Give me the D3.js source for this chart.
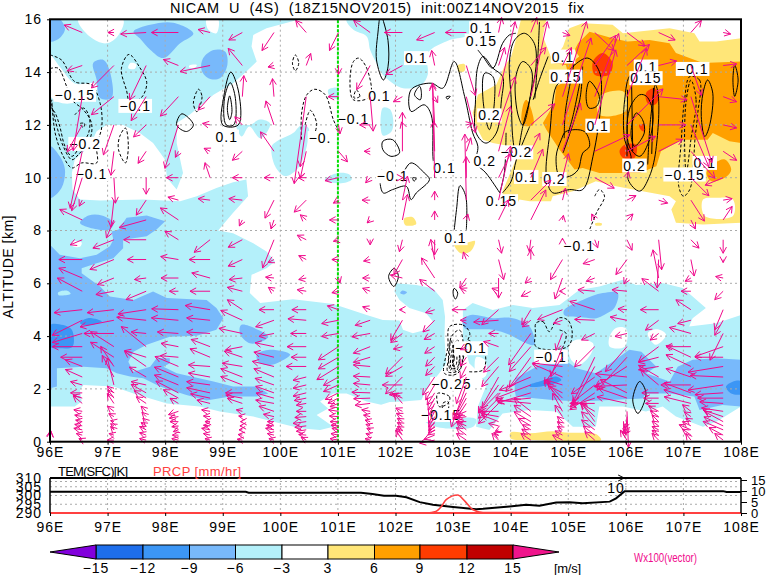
<!DOCTYPE html>
<html><head><meta charset="utf-8">
<script src="https://cdn.jsdelivr.net/npm/d3@7/dist/d3.min.js"></script>
<style>html,body{margin:0;padding:0;background:#fff}svg{display:block}text{font-family:"Liberation Sans",sans-serif}</style>
</head><body><svg id="c" width="767" height="575"></svg>
<script>
const titleText="NICAM  U  (4S)  (18Z15NOV2015)  init:00Z14NOV2015  fix";
const lonTicks=[96,97,98,99,100,101,102,103,104,105,106,107,108];
const altTicks=[0,2,4,6,8,10,12,14,16];
const tempTicks=[290,295,300,305,310];
const prcpTicks=[0,5,10,15];
const legendLevels=[-15,-12,-9,-6,-3,3,6,9,12,15];
const legendColors=["#1e6eeb","#3c96f5","#78b9fb","#b4f0fa","#ffffff","#ffe678","#ffa000","#ff3c00","#c00000"];
const legendLow="#8200dc",legendHigh="#f0148c";

const uBelowM3=[
[[96,16],[100.34,16],[99.76,15.66],[99.53,15.41],[99.5,14.97],[99.59,14.4],[99.41,14.02],[99.18,13.58],[98.84,13.14],[98.43,12.39],[98.2,12.07],[98.2,11.31],[98.31,10.18],[98.2,9.55],[98.03,9.99],[98,10.68],[97.79,11.31],[97.56,11.69],[97.27,12],[96.98,12],[96.81,11.76],[96.69,11.19],[96.43,10.69],[96.38,10.18],[96.39,9.55],[96.52,9.17],[96.87,9.14],[97.62,9.17],[98.26,9.11],[98.55,9.3],[98.89,9.61],[99.18,9.83],[99.41,9.93],[99.44,9.3],[99.18,8.67],[98.92,8],[99.18,7.9],[99.53,7.52],[99.76,7.2],[99.91,6.83],[99.76,6.57],[99.5,6.32],[99.47,5.63],[99.65,5.25],[100.22,5.4],[100.92,5.22],[101.5,4.8],[101.78,4.61],[102.07,4.59],[102.13,4.24],[102.3,4.11],[102.53,4.24],[102.65,4.55],[102.53,4.87],[102.24,5.06],[102.07,5.37],[101.98,5.69],[102.01,6],[102.36,5.94],[102.65,5.81],[102.82,5.37],[102.86,4.74],[102.85,3.98],[102.88,2.97],[102.76,2.59],[102.53,1.96],[102.45,1.58],[102.13,1.52],[101.9,1.5],[101.75,1.4],[101.5,1.52],[101.15,1.83],[100.92,1.83],[100.69,1.52],[100.83,1.26],[100.63,1.01],[100.92,.57],[100.69,.44],[100.34,.51],[99.99,.7],[99.53,.95],[98.95,1.14],[98.6,1.33],[98.03,1.45],[97.45,1.83],[97.1,2.09],[96.58,2.15],[96.52,1.96],[96.55,1.52],[96.43,1.33],[96,1.33]],
[[103.17,4.99],[103.34,5.25],[103.69,4.99],[104.04,5.18],[104.38,5.06],[104.85,5.18],[105.19,5.75],[105.54,5.88],[105.95,6.13],[106.18,5.94],[106.65,6],[106.99,5.82],[107.39,5.06],[107.16,4.68],[107.1,4.36],[107.57,4.49],[108,4.8],[108,1.33],[107.57,.76],[107.34,.57],[106.87,.95],[106.64,1.33],[106.35,1.14],[105.95,1.33],[105.54,1.33],[105.48,.57],[105.08,.57],[104.79,1.14],[104.33,1.2],[103.86,1.07],[103.63,.44],[103.4,.57],[103.43,1.33],[103.57,2.09],[103.52,2.34],[103.4,2.72],[103.28,2.97],[103.17,3.86]],
[[101.15,16],[101.27,15.6],[101.5,15.35],[101.56,14.84],[101.67,14.34],[101.78,13.9],[102.13,13.39],[102.45,13.52],[102.56,13.9],[102.56,14.72],[102.94,15.22],[103.26,15.41],[103.3,16]],
[[101.78,12.65],[101.9,12.6],[101.96,12.2],[101.93,11.75],[101.78,11.6]],
[[99.24,12],[99.33,11.56],[99.46,11.94],[99.65,11.5],[99.79,11.81],[99.82,12.06],[99.65,12.2],[99.47,12]],
[[99.85,11.19],[99.91,10.43],[100.08,10.06],[100.31,10.37],[100.46,11.19],[100.49,11.88],[100.37,12],[100.22,11.69],[99.94,11.38]],
[[100.77,9.93],[101,10.18],[101.2,10.12],[101.24,9.93],[101.03,9.78]],
[[100.83,13.33],[101,13.4],[101,13],[100.86,13.08]],
[[102.47,.85],[102.93,.9],[103.4,.85],[103.35,.57],[102.7,.57]]
];
const uHolesM3=[
[[96.49,16],[96.69,15.35],[96.98,15.09],[97.19,15.41],[97.27,16]],
[[98.72,16],[98.75,15.6],[98.89,15.47],[98.92,16]],
[[97.4,14.35],[97.5,14.3],[97.47,14.12],[97.36,14.15]],
[[98.42,14.25],[98.55,14.27],[98.52,14.17],[98.42,14.17]],
[[96,14.65],[96.17,14.2],[96.43,13.57],[96.78,13.57],[96.81,13.3],[96.3,12.8],[96,13.1]],
[[96.4,7.6],[96.55,7.55],[96.52,7.38],[96.38,7.42]],
[[105.72,3.6],[105.72,4],[105.84,4.32],[106.01,4.27],[105.98,3.6]],
[[106.38,4.11],[106.55,4.26],[106.7,4.05],[106.52,3.67]],
[[105.02,3.67],[105.14,3.86],[105.43,3.73],[105.4,3.35],[105.19,2.91],[105.05,3.1]],
[[103.4,3.2],[103.55,3.1],[103.57,2.5],[103.42,2.4]]
];
const uBelowM6=[
[[96,16],[96.17,16],[96.26,15.62],[96.14,15.24],[96,15.17]],
[[97.45,15.53],[97.74,15.79],[98.14,15.87],[98.49,15.46],[98.26,15.09],[97.97,14.53],[97.74,14.85],[97.56,15.28]],
[[98.66,14.53],[98.84,14.84],[99.04,14.78],[99.08,14.27],[98.95,13.77],[98.75,13.77],[98.63,14.09]],
[[96.75,14.34],[96.93,14.46],[97.04,14.02],[97.07,13.02],[96.87,13.02],[96.81,13.71]],
[[96,11.19],[96.17,10.81],[96.26,10.31],[96.2,9.61],[96,9.24]],
[[96.52,8.29],[96.67,8.57],[96.9,8.57],[97.1,8.29],[97.04,8.04],[96.69,8.1]],
[[96,7.46],[96.17,7.08],[96.52,6.95],[96.81,7.08],[97.04,7.4],[97.1,7.65],[97.07,7.96],[97.19,8.04],[97.33,8.48],[97.68,8.57],[98,8.35],[97.85,8.04],[97.68,7.78],[97.27,7.65],[97.27,7.33],[97.1,6.95],[96.81,6.76],[96.55,6.57],[96.55,6.38],[96.87,5.88],[97.04,5.5],[97.45,5.37],[97.79,5.69],[98.03,5.44],[98.72,5.37],[98.89,5.06],[99.01,4.68],[98.89,4.24],[98.55,4.01],[98.08,3.98],[97.68,3.67],[97.45,3.41],[97.36,3.03],[97.45,2.65],[97.74,2.84],[97.85,3.16],[98.08,3.16],[98.08,2.97],[97.97,2.84],[98.2,2.59],[98.84,2.28],[99.18,2.09],[99.59,2.09],[99.79,1.83],[99.59,1.71],[99.13,1.71],[98.72,1.56],[98.37,1.77],[97.91,2.09],[97.62,2.4],[97.39,2.47],[97.16,2.59],[96.98,2.78],[96.58,2.84],[96.12,2.78],[96.12,2.09],[96,2.02]],
[[99.32,4.42],[99.61,4.24],[99.79,3.98],[99.67,3.79],[99.47,3.73],[99.3,4.08]],
[[99.59,3.3],[99.82,3.48],[100.17,3.3],[100.05,3.09],[99.82,2.9],[99.62,3.03]],
[[103.17,4.61],[103.31,4.8],[103.69,4.68],[104.04,4.68],[104.33,4.36],[104.41,3.67],[104.21,3.79],[103.98,4.05],[103.69,4.24],[103.4,4.26],[103.2,4.3]],
[[104.93,4.99],[105.25,5.37],[105.6,5.63],[105.86,5.63],[105.8,5.06],[105.63,4.81],[105.49,4.68],[105.2,4.72],[104.93,4.8]],
[[104.07,2.21],[104.09,2.4],[104.5,2.91],[105.02,2.97],[105.14,2.78],[105.48,2.59],[105.77,3.03],[106.06,3.48],[106.27,3.41],[106.53,2.84],[106.35,2.59],[106.76,2.28],[106.9,2.84],[107.16,3.1],[107.57,3.16],[108,3.1],[108,1.33],[107.68,1.39],[107.28,1.2],[107.19,1.71],[106.76,1.83],[106.35,1.83],[106.29,1.64],[105.72,1.58],[105.19,1.52],[104.73,1.58],[104.09,1.71],[104.07,1.96]],
[[102.12,5.73],[102.2,5.66],[102.15,5.58],[102.08,5.63]]
];
const uInsideM6=[[[96.14,5.65],[96.3,5.72],[96.36,5.6],[96.15,5.55]]];
const uBelowM9=[
[[96,4.42],[96.23,4.42],[96.38,4.24],[96.39,3.6],[96.17,3.54],[96,3.6]],
[[96.52,4.5],[96.66,4.68],[96.9,4.55],[96.6,4.4]],
[[104.33,2.15],[104.5,2.28],[104.79,2.47],[104.88,2.34],[104.67,2.15],[104.33,2.09]],
[[107.74,2.09],[107.91,2.31],[108,2.28],[108,1.81],[107.83,1.83]]
];
const uAbove3=[
[[103.34,12.45],[103.43,13.14],[103.75,13.52],[103.89,14.21],[104.01,14.59],[104.09,15.22],[104.18,16],[104.62,16],[104.56,15.35],[104.73,14.4],[104.91,14.97],[105.02,15.66],[105.25,15.85],[105.77,15.79],[105.95,15.47],[106.76,15.66],[107.19,15.47],[107.28,15.16],[107.57,15.16],[108,15.28],[108,8.29],[107.34,8.23],[106.87,8.29],[106.79,8.8],[106.87,9.11],[106.76,9.3],[106.29,9.49],[105.83,9.68],[105.48,9.87],[105.08,9.49],[104.73,9.3],[104.7,9.11],[104.33,9.11],[104.15,9.17],[104.09,8.92],[103.86,9.05],[103.86,9.49],[104.09,10.69],[104.15,11.13],[103.69,11.31],[103.52,11.44],[103.4,11.94]],
[[102.15,8.45],[102.3,8.5],[102.36,8.25],[102.17,8.2]],
[[103.08,14.25],[103.2,14.3],[103.2,14.05],[103.1,14]],
[[103,7.6],[103.25,7.55],[103.38,7.6],[103.3,7.2],[103.12,7.15]],
[[104,.35],[104.33,.32],[104.73,.4],[105.02,.34],[105.48,.29],[105.57,.06],[105,.03],[104.33,.06],[104,.12]],
[[105.47,8.27],[105.58,8.27],[105.58,8.2],[105.47,8.2]]
];
const uHoles3=[
[[107.34,9.17],[107.57,9.24],[107.86,9.17],[107.86,8.55],[107.37,8.55]]
];
const uAbove6=[
[[105.17,15.09],[105.37,15.53],[105.77,15.28],[106.03,15.16],[106.41,15.22],[106.76,15.09],[106.87,14.72],[107.34,14.34],[108,14.4],[108,11.31],[107.8,11.38],[107.51,11.69],[107.42,11.44],[106.96,11.44],[106.81,11.25],[106.61,11],[106.53,10.43],[106.24,10.18],[105.54,10.18],[105.25,10.37],[105.11,10.31],[104.85,11.06],[104.62,11.82],[104.56,12.07],[104.76,12.83],[104.79,13.46],[105.02,13.71],[104.96,14.27],[104.73,14.34],[105.08,14.4],[105.19,14.59],[105.11,14.84]],
[[104.21,12.7],[104.27,12.95],[104.36,12.57],[104.39,12],[104.21,12]],
[[107.4,10.18],[107.55,10.56],[107.72,10.69],[107.83,10.31],[107.75,10.05],[107.49,9.87]]
];
const uHoles6=[
[[105.54,13.07],[105.95,13.27],[106.03,12.7],[105.95,12.45],[105.54,12.38]]
];
const uAbove9=[
[[105.43,14.4],[105.6,14.72],[105.77,14.34],[105.71,13.9],[105.46,13.9]],
[[106.35,13.2],[106.5,13.39],[106.58,13.07],[106.5,12.76],[106.38,12.82]],
[[106.23,12],[106.32,12.02],[106.32,11.75],[106.26,11.82]],
[[105.89,11],[105.98,11.25],[106.18,11.25],[106.15,10.75],[105.95,10.75]]
];

const solidContours=[
[[98.29,12.42],[98.49,12],[98.37,11.75],[98.2,12]],
[[99.14,14],[99.28,13.2],[99.27,12],[99,12],[99.02,13.1]],
[[99.13,13.6],[99.22,13],[99.19,12],[99.06,12],[99.03,13]],
[[99.12,13.1],[99.16,12.5],[99.12,12.2],[99.08,12.6]],
[[101.78,11.38],[101.95,11.44],[102.07,10.94],[101.92,10.81],[101.78,11.06]],
[[102.3,10],[102.36,9.97],[102.32,9.87]],
[[102.42,13.46],[102.33,13.14],[102.43,12.95],[102.45,13.2]],
[[102.88,13.06],[102.95,13.08],[102.9,12.98]],
[[104.24,15.47],[104.41,15.09],[104.44,14.21],[104.33,12.95],[104.21,11.94],[104.1,10.81],[104.04,11.44],[104.01,12.95],[103.98,14.46],[104.07,15.22]],
[[104.21,14.4],[104.36,14.08],[104.33,12.95],[104.21,12],[104.12,12.45],[104.09,13.83]],
[[103.43,14.21],[103.39,12.95],[103.4,11.69],[103.57,11.31],[103.75,11.69],[103.84,12.95],[103.86,13.83],[103.69,14.15],[103.52,14.59]],
[[103.69,13.83],[103.72,12.95],[103.63,11.82],[103.52,12.95],[103.55,13.96]],
[[104.79,13.46],[104.68,11.69],[104.62,10.06],[104.73,9.43],[105.02,9.55],[105.25,9.55],[105.43,10.81],[105.57,12.95],[105.54,14.02],[105.34,14.53],[105.08,14.21],[104.91,13.71]],
[[105.37,13.65],[105.54,13.07],[105.49,12.7],[105.36,12.64],[105.31,13.07]],
[[104.96,11.75],[105.28,11.75],[105.37,11.19],[105.25,10.93],[105.17,10.3],[105.02,10.05],[104.85,10.05],[104.79,10.81],[104.88,11.44]],
[[106.09,13.9],[105.98,12.95],[105.98,11.44],[106.09,10.81],[106.04,9.93],[106.24,9.49],[106.41,10.05],[106.53,11.19],[106.53,13.46],[106.36,13.83]],
[[106.24,13.14],[106.06,12.57],[106.06,11.19],[106.24,10.81],[106.41,11.44],[106.47,12.45],[106.36,13.08]],
[[106.18,12.45],[106.09,11.69],[106.15,11.19],[106.32,11.69],[106.29,12.2]],
[[107.42,13.7],[107.51,13.2],[107.45,11.94],[107.37,11.56],[107.31,12.32],[107.34,13.2]],
[[107.89,14.27],[107.95,13.7],[107.89,13.08],[107.86,13.7]],
[[101.98,6.57],[102.05,6.26],[101.97,5.88],[101.88,6.26]],
[[103.02,5.81],[103.08,5.63],[103.04,5.4],[103,5.63]],
[[106.24,2.28],[106.35,1.83],[106.21,1.07],[106.12,1.58]]
];
const solidOpen=[
[[101.72,16],[101.7,15.6],[101.67,14.46],[101.79,13.7],[101.87,14.2],[101.87,15.2],[101.78,16]],
[[101.76,10.3],[101.73,9.87],[101.79,9.42],[101.95,9.55],[102.19,9.67],[102.27,9.17],[102.36,9.42],[102.59,9.93],[102.5,10.18],[102.27,10.56],[102.07,10.06],[101.9,10.18],[101.78,10.1]],
[[102.68,9.99],[102.65,10.81],[102.62,12.38],[102.5,12.76],[102.27,12.51],[102.27,13.33],[102.62,13.58],[102.82,13.39],[103.02,14.4],[103.2,13.08],[103.34,11.7],[103.43,11.19],[103.4,10.56],[103.57,10.18],[103.81,9.43]],
[[103.02,8.03],[103.06,8.8],[103.12,9.7],[103.22,9.3],[103.23,8.03]],
[[103.43,14.84],[103.52,14.59],[103.69,14.15],[103.86,15.09],[103.98,15.41],[104.09,15.47]],
[[103.92,11.7],[103.89,10.18],[103.81,9.43]],
[[104.33,11.94],[104.1,10.69],[104.01,9.87],[103.86,9.43]],
[[104.65,14.59],[104.5,13.71],[104.39,12.95]],
[[105.2,13.58],[105.08,12.32],[105,11.69]],
[[105.25,14.21],[105.2,12.95],[104.91,10.94]],
[[106.03,13.33],[106.02,10.81]],
[[106.48,13.4],[106.45,10.9]],
[[104.5,15.9],[104.47,14.5],[104.42,13]],
[[105.1,14.3],[104.95,12.5],[104.93,11.5]],
[[106.1,13.6],[106.12,11]],
[[106.5,13.5],[106.42,12],[106.38,10.5]]
];
const dashedContours=[
[[96.52,12.05],[96.6,12.05],[96.58,11.9]],
[[97.37,14.67],[97.56,14.17],[97.68,13.6],[97.59,13.04],[97.39,12.85],[97.33,13.3],[97.24,14.13]],
[[97.31,11.88],[97.36,11.19],[97.31,10.56],[97.19,11.06],[97.21,11.56]],
[[98.58,13.35],[98.64,13.07],[98.55,12.5],[98.49,12.82]],
[[100.26,14.65],[100.32,14.34],[100.26,14.05],[100.21,14.34]],
[[101.36,14.53],[101.5,14.15],[101.56,13.08],[101.27,12.95],[101.21,13.7],[101.27,14.4]],
[[101.32,13.33],[101.38,13.08],[101.28,13.02]],
[[107.11,13.83],[107.28,13.7],[107.25,12.45],[107.2,11.44],[107.17,10.43],[107.11,9.55],[107,9.3],[106.92,9.67],[106.96,11.31],[107.02,12.95]],
[[107.13,13.7],[107.22,12.95],[107.13,11.44],[107.05,10.18],[107.02,11.44],[107.05,12.95]],
[[104.44,4.49],[104.56,4.55],[104.67,4.17],[104.82,4.68],[104.99,4.61],[105.07,4.11],[104.99,3.6],[104.44,3.6],[104.43,4.11]],
[[102.94,4.36],[103.17,4.42],[103.29,4.11],[103.23,3.73],[103.08,2.59],[102.85,2.59],[102.91,3.6]],
[[102.97,3.98],[103.11,4.23],[103.17,3.86],[103.11,2.72],[102.91,2.65],[102.94,3.35]],
[[103,3.6],[103.08,3.86],[103.08,2.84],[102.97,2.78]],
[[103.01,3.35],[103.05,3.6],[103.05,2.9],[103,2.87]],
[[102.96,3.86],[103.02,3.16],[102.95,2.7],[102.92,3.2]],
[[103.03,3.7],[103.12,3.2],[103.05,2.65],[103,3.1]],
[[102.73,1.83],[102.94,1.7],[102.91,1.45],[102.76,1.33]],
[[102.82,1.45],[102.91,1.52],[102.91,1.2],[102.82,1.25]]
];
const dashedOpen=[
[[96,14.65],[96.2,14.46],[96.43,13.64],[96.72,13.52],[96.87,12.82],[96.9,11.94],[96.81,11.19],[96.81,10.56],[96.55,10.56],[96.38,10.37],[96.23,10.81],[96.09,11.69],[96.03,12.95]],
[[96,14.13],[96.14,14.15],[96.29,13.45],[96.38,12.95],[96.58,12.57],[96.72,12.07],[96.69,11.44],[96.49,10.87],[96.38,10.68],[96.23,11.19],[96.09,12.19],[96,13.08]],
[[96.43,12.38],[96.58,12.64],[96.68,12.32],[96.67,11.69],[96.52,11.19],[96.38,10.81],[96.26,11.19],[96.17,11.94],[96.09,12.45],[96,12.7]],
[[100.37,11.44],[100.37,12.45],[100.46,13.14],[100.6,13.35],[100.78,13.14],[100.92,12.2],[100.99,11.88]],
[[100.43,12],[100.52,12.55],[100.63,12.07],[100.6,11.69]],
[[105.46,9.3],[105.54,9.55],[105.63,9.3],[105.49,8.67],[105.37,8.03]],
[[104.85,4.23],[104.96,4.11],[104.91,3.6],[104.82,3.35]],
[[103.26,3.86],[103.55,3.35],[103.52,2.72],[103.28,2.65]]
];
const contourLabels=[
[96.43,13.14,"−0.15"],[97.48,12.72,"−0.1"],[96.61,11.28,"−0.2"],[96.72,10.14,"−0.1"],[99.07,11.56,"0.1"],
[100.69,11.5,"−0."],[101.27,12.22,"−0.1"],[101.72,13.08,"0.1"],[103.49,15.66,"0.1"],[103.49,15.19,"0.15"],
[102.36,14.53,"0.1"],[104.91,14.59,"0.1"],[104.96,13.83,"0.15"],[106.35,14.21,"0.1"],[106.35,13.77,"0.15"],
[107.16,14.12,"−0.1"],[103.63,12.36,"0.2"],[105.51,11.97,"0.1"],[103.55,10.64,"0.2"],[104.1,10.96,"−0.2"],
[102.85,10.38,"0.1"],[104.27,10.03,"0.1"],[104.76,9.95,"0.2"],[106.15,10.46,"0.2"],[107.37,10.56,"0.1"],[107.02,10.12,"−0.15"],
[101.95,10.05,"−0.1"],[103.84,9.11,"0.15"],[103.04,7.71,"0.1"],[105.19,7.42,"−0.1"],[103.31,3.54,"−0.1"],
[104.7,3.22,"−0.1"],[102.97,2.19,"−0.25"],[102.79,1.01,"−0.15"]
];

const vecLons=[96,96.56,97.11,97.67,98.23,98.78,99.34,99.89,100.45,101.01,101.56,102.12,102.68,103.23,103.79,104.35,104.9,105.46,106.02,106.57,107.13,107.69];
const vecAlts=[15.5,14.25,13.07,12,11,10,9.15,8.4,7.65,6.9,6.2,5.7,5,4.6,4.1,3.6,3.2,2.85,2.45,2.15,1.85,1.65,1.45,1.15,.95,.76,.6,.45,.25,.06];
const vecU=[
[0,-6,-2,-8.5,-9,-4,-4.5,-4,-3.5,-3,-5.5,-6,-6,-7,1,2,2.5,6.5,6,5.5,3.5,2.5],
[0,-5,-7.5,-5.5,-5,-10,-4.7,-2,1.5,0,-4.5,-5.5,-1,3,2,5,3,7,7.5,6,3.5,4.5],
[0,-3,-7.5,-5,-6,-4,.5,-.5,-4,-3.5,1,-3,1,3,5.5,5.5,8,8,6.5,9.5,7,4.5],
[0,-5,-3.5,-4.2,-4.5,-2.5,-2.5,-2.7,-2,.5,-3.5,-.3,-.7,2,5.5,8,9.5,7,12,9,6,4.5],
[0,-4,-1,-2.7,-1,-2,-3.3,-4.5,-2,3,-2,0,-.3,1.5,4,3,6,11.7,9.5,8,8,4.5],
[0,-3.5,.5,0,-4,-1.7,-3.3,-3.3,-2.7,-4.5,-1.5,.2,-.7,0,4,4,2,6.5,.5,0,6,-6],
[0,-1,-1,-3.3,-3.5,-4,-4.5,-3,-4,-1.7,-2.7,1.7,0,-.5,4,6.7,1,0,3,3,4.5,3],
[0,-7.5,-2.5,-9,-6,0,-1,-1,-2,-3,-1,1.7,0,.5,3.3,5,.3,-1,2,0,1.5,3],
[0,-4,-7,-7.5,-4.5,-5.3,-4.7,-3.8,-3,-1.7,0,-1,0,0,1,-.5,0,1,1.7,1,2.7,0],
[0,-7.8,-8,-6.3,-5.9,-7,-4.7,-2,-2.5,-2.2,-2.2,-2.8,-1.3,-1,1.7,0,-4,-3.9,-3.7,-.5,1.1,0],
[0,-7.8,-5.5,-3.9,-5.8,-6.1,-4.4,-2.8,-2.5,.5,-2.5,-4,-4.4,-2.2,0,-1.9,-2.5,-2.8,-1,-1.9,-1.9,-2.5],
[0,-8.3,-6,-6.7,-3,-6.7,-5,-1.9,-3,-2.2,-2.5,0,-5,-2,-2.2,-3.2,-1,-5.6,-5,-5.6,-3.3,-2.8],
[0,-9.4,-8.9,-9.4,-8.9,-8.3,-5,-5,-4.8,-3.7,-2.5,-1,-3,-4.8,-5.6,-3,-8.3,-8.3,-3,-6.1,-5,-2.8],
[0,-10,-11.3,-9.8,-9,-7.8,-7.2,-6.1,-6.1,-5.6,-5,-3.9,-3.9,-2,-8.3,-2.8,-3,-6.7,-5.6,-4.4,-4.4,-2.8],
[0,-10,-10,-5,-7,-7.8,-7.8,-5,-5.2,-5.6,-6.1,-3.9,-3.5,0,-3.3,-7.4,-2.2,-4.4,-4,-2.8,-7.2,-4.4],
[0,-10,-7.8,-8.3,-5.8,-6.3,-5.6,-6.3,-6.4,-6.7,-5.6,-3,-3.3,-2,-5,-7.2,-3.9,-6.7,-7.2,-6.7,-8.3,-9.4],
[0,-7.2,-7.8,-7.2,-6,-6.7,-6,-6.7,-5,-6.7,-5.6,-5.6,-3,-2,-5,-7.2,-6.1,-7.2,-10,-6.7,-8.3,-9.4],
[0,-5.6,-4.4,-7.2,-7.8,-7.2,-6.7,-7.2,-6.7,-7.2,-5.6,-5.6,-3,-2,-5.6,-8.3,-10,-7.2,-10.5,-6.7,-8.3,-11.7],
[0,-5.6,-3.9,-5.6,-8,-7.2,-7.2,-6.7,-4.4,-5,-5.6,-5.6,-4,-3.3,-6.7,-10.5,-10,-7.8,-10.5,-6.7,-8.3,-11],
[0,-3.9,-2.2,-5,-8,-7.8,-7.2,-6.3,-4.4,-5,-5.6,-6.7,-3,-5,-5.6,-11.7,-5.6,-7.8,-11,-6,-10,-11.7],
[0,-3.9,-2.2,-5,-7.5,-7.8,-5.6,-6.1,-4.4,-4.4,-6.1,-4.4,-2.5,-4.4,-6.7,-11,-4.4,-8.3,-8.9,-5.6,-8.9,-9.4],
[0,-3,-2,-4,-5,-6.5,-5.5,-6,-4,-3.5,-5.5,-3.5,-2.2,-4,-6.7,-11,-5,-8.3,-9.5,-5,-9,-8.5],
[0,-3,-2.2,-3.3,-2.8,-4.4,-5,-6.1,-3.3,-2.8,-5,-2.8,-2,-3.3,-6.7,-11.7,-6.1,-8.3,-10,-4.4,-8.9,-7.8],
[0,-2.8,-2.2,-1.7,-3.3,-2.8,-2,-5,-3.3,-3.3,-2.8,-2.2,-2,-2.8,-6.1,-5.6,-3.3,-5,.5,-3.3,-2.8,-7.2],
[0,-2.5,-1.7,-1.4,-3,-2.2,-1.2,-3.5,-3.8,-3,-2.2,-2,-2,-3,-5.8,-5.6,-2.5,-4.7,-.5,-2.8,-2.2,-6.7],
[0,-2.2,-1.1,-1.1,-2.8,-1.7,-.6,-2.2,-4.4,-2.8,-1.7,-1.7,-2,-3.3,-5.6,-5.6,-1.7,-4.4,-1.1,-2.2,-1.7,-6.1],
[0,-2.5,-1.1,-1.7,-2.2,-2.2,-.8,-2.5,-3.8,-2.5,-1.4,-1.7,-2,-3.3,-3.3,-4.2,-1.7,-4.4,-1.1,-2.2,-2.8,-6.4],
[0,-2.8,-1.1,-2.2,-1.7,-2.8,-1.1,-2.8,-3.3,-2.2,-1.1,-1.7,-2.2,-3.3,-1.1,-2.8,-1.7,-4.4,-1.1,-2.2,-3.9,-6.7],
[.2,-2,-1.6,-2.2,-2,-2.2,-1.4,-2.2,-2.5,-2.5,-1.4,-2,-3.5,-3.3,-1.6,-3,-2.5,-3.8,-1.6,-2.2,-2.8,-4.7],
[.3,-1.1,-2.2,-2.2,-2.2,-1.7,-1.7,-1.7,-1.7,-2.8,-1.7,-2.2,-5,-3.3,-2.2,-3.3,-3.3,-3.3,-2.2,-2.2,-1.7,-2.8]
];
const vecW=[
[0,2.5,0,-.5,0,1,-2.5,-6,4,-6,4,0,-2.5,0,5,5,-1,-6,-4.5,-2.5,4,-.5],
[0,-1.7,-7.5,-11.5,2,-2,5.7,-.5,4,-3,-8,-3,5,-10,6,6,6,10,7,1.5,-10,.5],
[0,-18,-6,-8,-6.5,-4.5,7,6,-29,0,-11.5,-1.7,-2,-12,25,25,25,21,16,-1,-22,-1.7],
[0,-9,-10,-4,-14.5,.5,2.7,8,-14,-3,0,1,14,.5,16,7,29,25,12,0,-14,-1],
[0,-19,-8,-4,-2,1,-3,6.5,-9,-3.5,0,13,10,4.5,15,6,16,5.5,5,4,-9,-3],
[0,-11,-8.5,-5.5,0,5,0,0,0,-1,-1.7,0,31,7,8,9.5,8,-3.5,2,0,-6,-2.5],
[0,-2,-9,-5,1,.5,.5,-6,-4,-1,0,8,3,22,18,6.7,4,0,1.5,-1,-7,.5],
[0,3.5,-6,-2.5,4,0,-2,-3,1.7,0,-1,8.5,3,2,6.7,10,1.5,2,2,0,-3,4.5],
[0,-1.7,-2.8,0,2.8,-4.2,-2.5,-9.4,1.5,-.5,-1.7,-4,-5,0,-4.5,-4,.5,-2.7,-3.5,-10,-2.8,-4.5],
[0,0,-3.3,0,1,0,-2.2,-1,1.3,0,-.5,-5,6.7,2.5,-6.7,3.3,-6.7,-1.4,-5,-9.5,-5.5,-1],
[0,3.3,-2.2,-.5,0,1.7,-.5,.3,-.5,-1.7,0,1,6.7,-3.3,-6.7,-1.7,-7,-1.1,-2,9.4,-1.1,.5],
[0,4.4,-1.1,-2.8,0,0,1.3,1.3,.5,-.5,1,0,3.9,1,1,-1.7,0,.5,.5,4.2,0,-2.8],
[0,-1,-1,-1.4,.3,1.4,3.3,0,0,1.3,1,0,-1,0,-5,-5,-3.3,2.8,.3,0,3.3,-6.7],
[0,-5,-2.2,1,.8,.8,3.3,-2.2,.5,-1.1,-1.7,-6.7,-3.9,0,-.6,-2.2,-1,.3,1.1,-3.3,-1.1,-5],
[0,-3,0,.5,.5,.5,1.7,-1,0,-1,-1.1,-3,-2,0,0,-10.5,-5.6,-2.2,-1,-2.2,2,-8.9],
[0,0,5,6.7,1.1,2.4,-1.1,1.3,0,-4.4,-2.2,-.8,-2.2,-1,1.7,-8.3,-10,-6.7,-8.3,-5,0,-3.3],
[0,0,5,2.2,.5,2.8,2,1.7,0,-3.9,-1.7,-5.6,-3,-3,-5,-10,-8.9,-15,-11,-1.7,3.9,0],
[0,2.2,6.7,5,3.3,.5,1.1,1.7,0,-4.4,.5,-3.3,-3,-4,-6.7,-8.3,1.1,-13,-6.7,-1.1,3.9,-1.9],
[0,2.5,7.2,3.3,3.3,1.3,2.8,2.8,-1.1,-2.8,.3,-5.6,-6,-8.9,-12,-4.4,4.4,-5.6,1.1,3.9,2.8,.5],
[0,1.1,8.9,1.1,3.3,1.1,2.8,2.2,-1.1,-2.2,.5,0,-5,-14,-7.8,-4.4,1.7,-6.1,-.5,5,0,-1.7],
[0,0,2.2,2.8,3.9,1.7,0,2.2,-1.1,-2.2,.2,-.6,-4,-8.9,-6.7,-3.3,2.2,-5.6,4.4,0,3.3,-.6],
[0,1,2.8,2.5,2.8,1.4,1,1.7,-.8,-1.7,-.2,1.5,-4,-7,-6.7,-1,5,-2.8,3.3,0,2.8,0],
[0,2.5,3.3,2.2,1.7,1.1,1.7,1.1,-.6,-1.1,-.6,3.3,-4,-5,-6.7,1.1,7.8,0,2.2,0,2.2,.5],
[0,.5,1.7,1.7,-1.1,.5,.5,1.7,0,.5,.5,1.1,-4,-1.1,0,4.4,6,2.8,-12,1.7,2.2,1.1],
[0,.5,1,1.4,-.5,.2,.2,.8,-.3,.2,.5,1.1,-3.5,-.5,1,3.8,3.8,4.5,-6,2,1.6,2.2],
[0,.5,.3,1.1,0,0,0,0,-.6,0,.5,1.1,-3,0,2.2,3.3,1.7,6.1,-2.2,2.2,1.1,3.3],
[0,.5,.7,1.1,-.3,.2,0,.2,-.5,.2,.5,1.1,-2.3,1.4,.8,2.5,1.4,4.7,-1.6,1.6,1.4,3],
[0,.5,1.1,1.1,-.6,.5,0,.5,-.5,.5,.5,1.1,-1.7,2.8,-.5,1.7,1.1,3.3,-1.1,1.1,1.7,2.8],
[1.5,.5,.5,.8,0,.5,.2,.5,.2,.5,.5,2.2,-1.4,2.5,.8,2,1.4,3,1.1,1.6,2,2.5],
[3,.5,0,.5,.5,.5,.3,.5,.9,.5,.5,3.3,-1,2.2,2.2,2.2,1.7,2.8,3.3,2.2,2.2,2.2]
];

const lineLons=[96,99.4,99.45,101.4,101.6,101.8,102.01,102.19,102.42,102.65,103,103.4,103.52,103.98,104.27,104.5,104.79,105.02,105.25,105.72,105.83,105.98,107.69,107.75,108];
const sfcTemp=[302.15,302.15,301.6,301.6,300.8,299.9,299.9,299,296.2,294.7,293.4,292.2,292.4,293.7,294.7,294.1,296,296.2,295.6,296.5,298.4,302.5,302.5,302,302];
const prcpLons=[96,102.55,102.7,102.79,102.88,103.08,103.2,103.34,103.52,108];
const prcpVals=[0,0,.7,2.7,6.1,8.2,5.5,1.6,.2,0];

const x=d3.scaleLinear().domain([96,108]).range([50,741]);
const y=d3.scaleLinear().domain([0,16]).range([441.7,19.3]);
const yT=d3.scaleLinear().domain([290,310]).range([513,478]);
const yP=d3.scaleLinear().domain([0,15]).range([513,480]);
const vecScale=d3.scaleLinear().domain([0,10]).range([0,30]);
const svg=d3.select("#c");
const pink="#f00a8c";
const plot=svg.append("g");
plot.append("defs").append("clipPath").attr("id","pc").append("rect").attr("x",50).attr("y",19.3).attr("width",691).attr("height",422.4);
const fillG=plot.append("g").attr("clip-path","url(#pc)");
const closed=d3.line().x(d=>x(d[0])).y(d=>y(d[1])).curve(d3.curveLinearClosed);
const smooth=d3.line().x(d=>x(d[0])).y(d=>y(d[1])).curve(d3.curveCatmullRomClosed.alpha(.5));
const openL=d3.line().x(d=>x(d[0])).y(d=>y(d[1])).curve(d3.curveCatmullRom.alpha(.5));
function paint(polys,col){fillG.selectAll(null).data(polys).enter().append("path").attr("d",p=>(p.length>20?closed:smooth)(p)).attr("fill",col);}
paint(uBelowM3,"#b4f0fa");paint(uHolesM3,"#fff");paint(uBelowM6,"#78b9fb");paint(uInsideM6,"#b4f0fa");paint(uBelowM9,"#3c96f5");
paint(uAbove3,"#ffe678");paint(uHoles3,"#fff");paint(uAbove6,"#ffa000");paint(uHoles6,"#ffe678");paint(uAbove9,"#ff3c00");

const gridC="#aaa";
lonTicks.slice(1,-1).forEach(v=>plot.append("line").attr("x1",x(v)).attr("x2",x(v)).attr("y1",y(0)).attr("y2",y(16)).attr("stroke",gridC).attr("stroke-dasharray","2 3"));
altTicks.slice(1,-1).forEach(v=>plot.append("line").attr("y1",y(v)).attr("y2",y(v)).attr("x1",50).attr("x2",741).attr("stroke",gridC).attr("stroke-dasharray","2 3"));

const cG=plot.append("g").attr("clip-path","url(#pc)").attr("fill","none").attr("stroke","#000").attr("stroke-width",1);
cG.selectAll(null).data(solidContours).enter().append("path").attr("d",smooth);
cG.selectAll(null).data(solidOpen).enter().append("path").attr("d",openL);
cG.selectAll(null).data(dashedContours).enter().append("path").attr("d",smooth).attr("stroke-dasharray","3 2");
cG.selectAll(null).data(dashedOpen).enter().append("path").attr("d",openL).attr("stroke-dasharray","3 2");

const lab=plot.append("g");
contourLabels.forEach(d=>{
  const g=lab.append("g");
  const r=g.append("rect").attr("fill","#fff");
  const t=g.append("text").attr("x",x(d[0])).attr("y",y(d[1])+5).attr("text-anchor","middle").attr("font-size",14).attr("letter-spacing",1).attr("fill","#000").text(d[2]);
  const b=t.node().getBBox();
  r.attr("x",b.x-1).attr("y",y(d[1])-7).attr("width",b.width+2).attr("height",14);
});

plot.append("line").attr("x1",x(101)).attr("x2",x(101)).attr("y1",y(0)).attr("y2",y(16)).attr("stroke","#00e000").attr("stroke-width",2).attr("stroke-dasharray","3 1.5");

const vG=plot.append("g").attr("stroke",pink).attr("fill","none").attr("stroke-width",1);
vecAlts.forEach((alt,r)=>vecLons.forEach((lon,k)=>{
  const u=vecU[r][k],w=vecW[r][k];
  if(u===0&&w===0)return;
  const x0=x(lon),y0=y(alt),x1=x0+vecScale(u),y1=y0-vecScale(w);
  const a=Math.atan2(y1-y0,x1-x0),h=7;
  vG.append("path").attr("d",`M${x0},${y0}L${x1},${y1}M${x1+h*Math.cos(a+2.65)},${y1+h*Math.sin(a+2.65)}L${x1},${y1}L${x1+h*Math.cos(a-2.65)},${y1+h*Math.sin(a-2.65)}`);
}));

plot.append("rect").attr("x",50).attr("y",19.3).attr("width",691).attr("height",422.4).attr("fill","none").attr("stroke","#000").attr("stroke-width",2);

const fs=14;
function styleAxis(g){g.select(".domain").remove();g.selectAll("line").attr("stroke","#000");g.selectAll("text").attr("font-size",fs).attr("letter-spacing",1).attr("font-family","Liberation Sans").attr("fill","#000");}
svg.append("g").attr("transform","translate(50,0)").call(d3.axisLeft(y).tickValues(altTicks).tickSize(3).tickPadding(5)).call(styleAxis);
svg.append("g").attr("transform","translate(0,441.7)").call(d3.axisBottom(x).tickValues(lonTicks).tickFormat(d=>d+"E").tickSize(3).tickPadding(2)).call(styleAxis);
svg.append("text").attr("transform","translate(13,267) rotate(-90)").attr("text-anchor","middle").attr("font-size",fs).attr("textLength",103).text("ALTITUDE [km]");
svg.append("text").attr("x",377).attr("y",13).attr("text-anchor","middle").attr("font-size",14.5).attr("textLength",414).attr("xml:space","preserve").text(titleText);

// lower panel
const lower=svg.append("g");
lonTicks.slice(1,-1).forEach(v=>lower.append("line").attr("x1",x(v)).attr("x2",x(v)).attr("y1",478).attr("y2",513).attr("stroke",gridC).attr("stroke-dasharray","2 3"));
[295,300,305,308].forEach(v=>lower.append("line").attr("x1",50).attr("x2",741).attr("y1",yT(v)).attr("y2",yT(v)).attr("stroke",gridC).attr("stroke-dasharray","2 3"));
const tLine=d3.line().x((d,i)=>x(lineLons[i])).y(d=>yT(d));
const pLine=d3.line().x((d,i)=>x(prcpLons[i])).y(d=>yP(d)).curve(d3.curveMonotoneX);
lower.append("path").attr("d",tLine(sfcTemp)).attr("fill","none").attr("stroke","#000").attr("stroke-width",2);
lower.append("path").attr("d",pLine(prcpVals)).attr("fill","none").attr("stroke","#ff4040").attr("stroke-width",1.6);
lower.append("line").attr("x1",50).attr("x2",741).attr("y1",513).attr("y2",513).attr("stroke","#ff4040").attr("stroke-width",2);
lower.append("line").attr("x1",50).attr("x2",741).attr("y1",478).attr("y2",478).attr("stroke","#000").attr("stroke-width",2);
lower.append("line").attr("x1",50).attr("x2",50).attr("y1",478).attr("y2",513).attr("stroke","#000").attr("stroke-width",1.5);
lower.append("line").attr("x1",741).attr("x2",741).attr("y1",478).attr("y2",513).attr("stroke","#000").attr("stroke-width",1.5);
svg.append("g").attr("transform","translate(50,0)").call(d3.axisLeft(yT).tickValues(tempTicks).tickSize(0).tickPadding(8)).call(styleAxis);
svg.append("g").attr("transform","translate(741,0)").call(d3.axisRight(yP).tickValues(prcpTicks).tickSize(6).tickPadding(4)).call(styleAxis).call(g=>g.selectAll("text").attr("font-size",13).attr("letter-spacing",0));
svg.append("g").attr("transform","translate(0,513)").call(d3.axisBottom(x).tickValues(lonTicks).tickFormat(d=>d+"E").tickSize(3).tickPadding(6)).call(styleAxis);
svg.append("text").attr("x",58).attr("y",476).attr("font-size",13).attr("textLength",70).text("TEM(SFC)[K]");
svg.append("text").attr("x",153).attr("y",476).attr("font-size",13).attr("fill","#ff4040").attr("textLength",88).text("PRCP [mm/hr]");
svg.append("text").attr("x",616).attr("y",493).attr("font-size",14).attr("letter-spacing",1).attr("text-anchor","middle").text("10");
const refX0=x(105.45),refX1=refX0+vecScale(10);
svg.append("path").attr("d",`M${refX0},478L${refX1},478M${refX1-6},475L${refX1},478L${refX1-6},481`).attr("fill","none").attr("stroke","#000");

// colorbar
const lx=[96,143,189.5,235.5,282,328,374.5,420,467,513];
const lg=svg.append("g");
legendColors.forEach((c,i)=>lg.append("rect").attr("x",lx[i]).attr("y",545).attr("width",lx[i+1]-lx[i]).attr("height",14).attr("fill",c).attr("stroke","#000"));
lg.append("path").attr("d","M96,545L50,552L96,559Z").attr("fill",legendLow).attr("stroke","#000");
lg.append("path").attr("d","M513,545L559,552L513,559Z").attr("fill",legendHigh).attr("stroke","#000");
legendLevels.forEach((v,i)=>lg.append("text").attr("x",lx[i]).attr("y",573).attr("text-anchor","middle").attr("font-size",fs).attr("letter-spacing",1).text(String(v).replace("-","−")));
lg.append("text").attr("x",554).attr("y",573).attr("font-size",13).attr("textLength",27).text("[m/s]");
lg.append("text").attr("x",634).attr("y",562).attr("font-size",13).attr("fill",pink).attr("textLength",63).attr("lengthAdjust","spacingAndGlyphs").text("Wx100(vector)");
</script></body></html>
